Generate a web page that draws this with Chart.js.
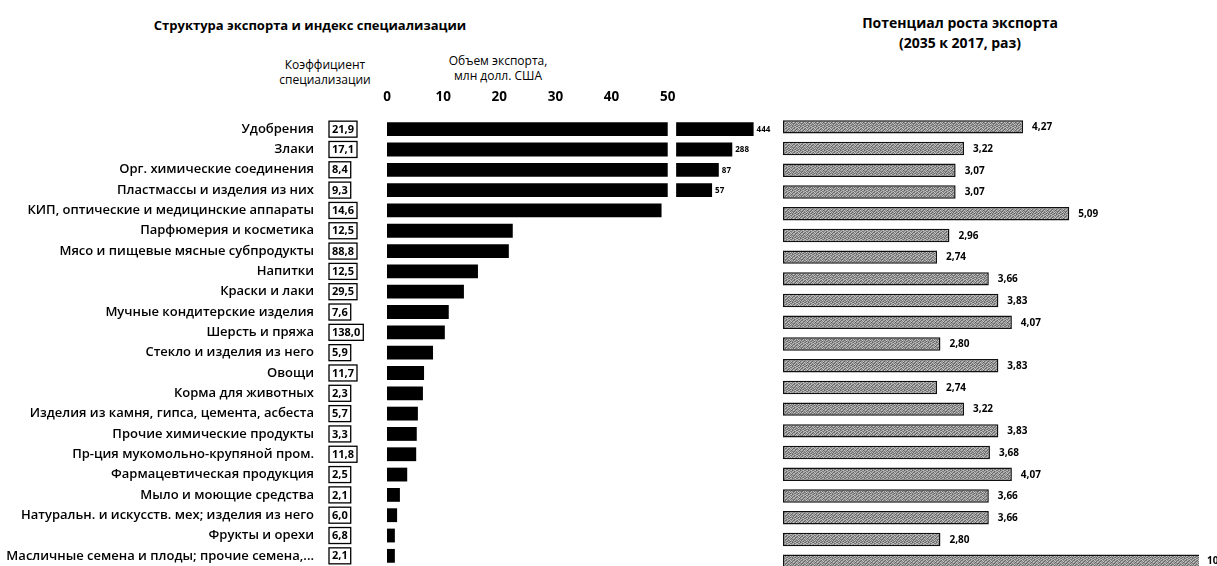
<!DOCTYPE html>
<html lang="ru">
<head>
<meta charset="utf-8">
<title>Структура экспорта и индекс специализации</title>
<script src="https://cdn.jsdelivr.net/npm/chart.js@4.4.1/dist/chart.umd.min.js"></script>
<style>
    body {
        margin: 0;
        width: 1217px;
        height: 566px;
        overflow: hidden;
        position: relative;
        background: #fff;
        font-family: 'Open Sans', sans-serif;
        color: #000;
    }
    canvas { position: absolute; top: 0; }
    #left-chart { left: 0; }
    #right-chart { left: 770px; }
    .note {
        position: absolute;
        transform: translateX(-50%);
        text-align: center;
        white-space: nowrap;
    }
    .title { font-weight: 700; font-size: 13px; line-height: 20px; }
    .title.r { font-size: 14px; }
    .sub { font-size: 12px; line-height: 15px; }
</style>
</head>
<body>
<div class="note title" style="left:310px; top:15px;">Структура экспорта и индекс специализации</div>
<div class="note title r" style="left:960px; top:13px;">Потенциал роста экспорта<br>(2035 к 2017, раз)</div>
<div class="note sub" style="left:325px; top:57px;">Коэффициент<br>специализации</div>
<div class="note sub" style="left:498px; top:53px;">Объем экспорта,<br>млн долл. США</div>

<canvas id="left-chart" width="780" height="566"></canvas>
<canvas id="right-chart" width="447" height="580"></canvas>

<script>
// Categories (same order as in the source table)
const categories = [
    'Удобрения',
    'Злаки',
    'Орг. химические соединения',
    'Пластмассы и изделия из них',
    'КИП, оптические и медицинские аппараты',
    'Парфюмерия и косметика',
    'Мясо и пищевые мясные субпродукты',
    'Напитки',
    'Краски и лаки',
    'Мучные кондитерские изделия',
    'Шерсть и пряжа',
    'Стекло и изделия из него',
    'Овощи',
    'Корма для животных',
    'Изделия из камня, гипса, цемента, асбеста',
    'Прочие химические продукты',
    'Пр-ция мукомольно-крупяной пром.',
    'Фармацевтическая продукция',
    'Мыло и моющие средства',
    'Натуральн. и искусств. мех; изделия из него',
    'Фрукты и орехи',
    'Масличные семена и плоды; прочие семена,...'
];

// Коэффициент специализации
const specIndex = [21.9, 17.1, 8.4, 9.3, 14.6, 12.5, 88.8, 12.5, 29.5, 7.6, 138.0,
                   5.9, 11.7, 2.3, 5.7, 3.3, 11.8, 2.5, 2.1, 6.0, 6.8, 2.1];

// Объем экспорта, млн долл. США
const exportVolume = [444, 288, 87, 57, 48.9, 22.4, 21.7, 16.2, 13.7, 11.0, 10.3,
                      8.2, 6.6, 6.4, 5.5, 5.3, 5.2, 3.6, 2.3, 1.8, 1.4, 1.4];

// Broken bars: cut at 50, the rest shown as a short segment after the gap
const axisBreak = 50;
const breakSegmentStart = 51.5;
const breakSegmentEnd = [65.3, 61.5, 59.1, 57.9];

const volumeTicks = [0, 10, 20, 30, 40, 50];

// Потенциал роста экспорта (2035 к 2017, раз)
const growthValues = [4.27, 3.22, 3.07, 3.07, 5.09, 2.96, 2.74, 3.66, 3.83, 4.07, 2.80,
                      3.83, 2.74, 3.22, 3.83, 3.68, 4.07, 3.66, 3.66, 2.80, 10.19];
const growthRows = categories.slice(0, growthValues.length);

const FONT = "'Open Sans', sans-serif";
const comma = (v, d) => v.toFixed(d).replace('.', ',');

// Grey halftone fill like the printed bars
function makeHatch() {
    const shades = [
        [120, 190, 150, 100, 200, 140, 175, 110],
        [185, 135, 95, 170, 125, 205, 105, 160],
        [145, 105, 200, 140, 180, 95, 150, 195],
        [100, 175, 130, 190, 110, 165, 130, 120],
        [195, 150, 110, 125, 205, 135, 185, 100],
        [130, 100, 180, 160, 95, 150, 115, 170],
        [165, 200, 120, 105, 175, 190, 100, 140],
        [110, 140, 170, 195, 130, 115, 160, 185]
    ];
    const c = document.createElement('canvas');
    c.width = 8;
    c.height = 8;
    const g = c.getContext('2d');
    shades.forEach((row, y) => row.forEach((s, x) => {
        g.fillStyle = `rgb(${s},${s},${s})`;
        g.fillRect(x, y, 1, 1);
    }));
    return g.createPattern(c, 'repeat');
}

// Boxes with the specialisation index, between labels and bars
const specBoxes = {
    id: 'specBoxes',
    afterDraw(chart) {
        const ctx = chart.ctx;
        const yScale = chart.scales.y;
        ctx.save();
        ctx.font = `700 11px ${FONT}`;
        ctx.textBaseline = 'middle';
        ctx.textAlign = 'left';
        ctx.strokeStyle = '#000';
        ctx.lineWidth = 1.3;
        ctx.fillStyle = '#000';
        specIndex.forEach((v, i) => {
            const y = yScale.getPixelForValue(i);
            const txt = comma(v, 1);
            const w = ctx.measureText(txt).width + 6;
            ctx.strokeRect(329, y - 8, w, 16);
            ctx.fillText(txt, 332, y + 0.5);
        });
        ctx.restore();
    }
};

// Value labels after the bars
const endLabels = {
    id: 'endLabels',
    afterDatasetsDraw(chart, args, opts) {
        const ctx = chart.ctx;
        const meta = chart.getDatasetMeta(opts.dataset);
        ctx.save();
        ctx.font = opts.font;
        ctx.fillStyle = '#000';
        ctx.textBaseline = 'middle';
        ctx.textAlign = 'left';
        meta.data.forEach((el, i) => {
            const txt = opts.text(i);
            if (txt === null) return;
            const x = Math.min(el.x, chart.chartArea.right) + opts.offset;
            ctx.fillText(txt, x, el.y + 0.5);
        });
        ctx.restore();
    }
};

new Chart(document.getElementById('left-chart'), {
    type: 'bar',
    data: {
        labels: categories,
        datasets: [
            {
                data: exportVolume.map(v => Math.min(v, axisBreak)),
                backgroundColor: '#000',
                grouped: false
            },
            {
                data: exportVolume.map((v, i) => v > axisBreak ? [breakSegmentStart, breakSegmentEnd[i]] : null),
                backgroundColor: '#000',
                grouped: false
            }
        ]
    },
    options: {
        indexAxis: 'y',
        responsive: false,
        animation: false,
        barPercentage: 0.68,
        categoryPercentage: 1,
        layout: { padding: { top: 89, right: 0, bottom: 0, left: 0 } },
        plugins: {
            legend: { display: false },
            tooltip: { enabled: false },
            endLabels: {
                dataset: 1,
                offset: 3,
                font: `700 8px ${FONT}`,
                text: i => exportVolume[i] > axisBreak ? String(exportVolume[i]) : null
            }
        },
        scales: {
            x: {
                position: 'top',
                min: 0,
                max: 70,
                grid: { display: false, drawTicks: false },
                border: { display: false },
                ticks: {
                    color: '#000',
                    padding: 14,
                    autoSkip: false,
                    maxRotation: 0,
                    font: { family: FONT, size: 13.5, weight: '700' }
                },
                afterBuildTicks: s => { s.ticks = volumeTicks.map(v => ({ value: v })); },
                afterFit: s => { s.height = 30; }
            },
            y: {
                grid: { display: false, drawTicks: false },
                border: { display: false },
                ticks: {
                    color: '#000',
                    padding: 73,
                    autoSkip: false,
                    font: { family: FONT, size: 13, weight: '600' }
                },
                afterFit: s => {
                    s.width = 387;
                    // tick padding is only meant to push the labels left
                    s.paddingTop = 0;
                    s.paddingBottom = 0;
                }
            }
        }
    },
    plugins: [specBoxes, endLabels]
});

new Chart(document.getElementById('right-chart'), {
    type: 'bar',
    data: {
        labels: growthRows,
        datasets: [{
            data: growthValues,
            backgroundColor: makeHatch(),
            borderColor: '#111',
            borderWidth: 1.5,
            borderSkipped: false,
            clip: 1
        }]
    },
    options: {
        indexAxis: 'y',
        responsive: false,
        animation: false,
        barPercentage: 0.62,
        categoryPercentage: 1,
        layout: { padding: { top: 116, right: 19, bottom: 8, left: 13 } },
        plugins: {
            legend: { display: false },
            tooltip: { enabled: false },
            endLabels: {
                dataset: 0,
                offset: 9,
                font: `700 10px ${FONT}`,
                text: i => comma(growthValues[i], 2)
            }
        },
        scales: {
            x: { display: false, min: 0, max: 7.38 },
            y: { display: false }
        }
    },
    plugins: [endLabels]
});
</script>
</body>
</html>
